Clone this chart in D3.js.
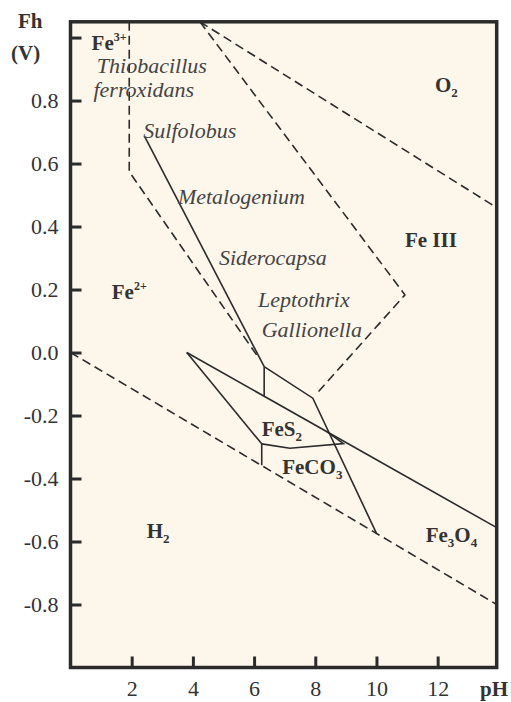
<!DOCTYPE html>
<html>
<head>
<meta charset="utf-8">
<script src="https://cdn.jsdelivr.net/npm/d3@7"></script>
<style>
  body { margin: 0; background: #fff; }
  text { font-family: "Liberation Serif", "Times New Roman", serif; fill: #333; }
</style>
</head>
<body>
<div id="container"></div>
<script>
// pH / Eh boundaries of the iron diagram
var waterO2 = [[4.23, 1.05], [13.93, 0.46]];
var waterH2 = [[0, 0], [13.93, -0.80]];
var fe3Line = [[1.92, 1.05], [1.92, 0.574], [6.1, -0.01]];
var fe3Field = [[4.23, 1.05], [10.93, 0.183], [8.05, -0.13]];

var sulfoLine = [[2.43, 0.685], [6.33, -0.045]];
var upperStep = [[6.33, -0.045], [7.92, -0.145], [10.0, -0.574]];
var stepTick = [[6.33, -0.045], [6.33, -0.14]];
var longLine = [[3.8, 0.0], [13.93, -0.556]];
var steepLine = [[3.8, 0.0], [6.25, -0.29]];
var fes2Base = [[6.25, -0.29], [7.17, -0.304], [8.92, -0.289], [8.38, -0.251]];
var fes2Tick = [[6.25, -0.29], [6.25, -0.358]];

var dashedLines = [waterO2, waterH2, fe3Line, fe3Field];
var solidLines = [sulfoLine, upperStep, stepTick, longLine, steepLine, fes2Base, fes2Tick];

var xTicks = [2, 4, 6, 8, 10, 12];
var yTicks = [-0.8, -0.6, -0.4, -0.2, 0.0, 0.2, 0.4, 0.6, 0.8, 1.0];
var yTickLabels = ["-0.8", "-0.6", "-0.4", "-0.2", "0.0", "0.2", "0.4", "0.6", "0.8", ""];

// species labels: [pH, Eh, text, sub/sup, kind]
var speciesLabels = [
    [0.69, 0.96, "Fe", "3+", "sup"],
    [11.91, 0.828, "O", "2", "sub"],
    [10.93, 0.336, "Fe III", "", ""],
    [1.35, 0.169, "Fe", "2+", "sup"],
    [6.25, -0.265, "FeS", "2", "sub"],
    [6.92, -0.386, "FeCO", "3", "sub"],
    [2.49, -0.59, "H", "2", "sub"]
];
var bacteriaLabels = [
    [0.86, 0.886, "Thiobacillus"],
    [0.75, 0.812, "ferroxidans"],
    [2.38, 0.68, "Sulfolobus"],
    [3.51, 0.471, "Metalogenium"],
    [4.85, 0.278, "Siderocapsa"],
    [6.13, 0.145, "Leptothrix"],
    [6.25, 0.048, "Gallionella"]
];

var W = 511, H = 702;
var svg = d3.select('#container')
    .append('svg')
    .attr('width', W)
    .attr('height', H);

var x = d3.scaleLinear().domain([0, 13.93]).range([70.5, 496.7]);
var y = d3.scaleLinear().domain([-1.0, 1.05]).range([667.5, 21.8]);

svg.append('rect')
    .attr('x', x(0)).attr('y', y(1.05))
    .attr('width', x(13.93) - x(0))
    .attr('height', y(-1.0) - y(1.05))
    .attr('fill', '#fdf6eb');

var line = d3.line()
    .x(function (d) { return x(d[0]); })
    .y(function (d) { return y(d[1]); });

svg.selectAll('.dash')
    .data(dashedLines)
    .enter().append('path')
    .attr('class', 'dash')
    .attr('d', line)
    .attr('fill', 'none')
    .attr('stroke', '#2b2b2b')
    .attr('stroke-width', 1.6)
    .style('stroke-dasharray', '9,5');

svg.selectAll('.solid')
    .data(solidLines)
    .enter().append('path')
    .attr('class', 'solid')
    .attr('d', line)
    .attr('fill', 'none')
    .attr('stroke', '#2b2b2b')
    .attr('stroke-width', 1.6)
    .attr('stroke-linejoin', 'miter');

// axes, ticks pointing inward
var yAxis = d3.axisLeft(y)
    .tickValues(yTicks)
    .tickFormat(function (d, i) { return yTickLabels[i]; })
    .tickSize(-11)
    .tickPadding(12);
var gy = svg.append('g').attr('transform', 'translate(' + x(0) + ',0)').call(yAxis);

var xAxis = d3.axisBottom(x)
    .tickValues(xTicks)
    .tickSize(-11)
    .tickPadding(13);
var gx = svg.append('g').attr('transform', 'translate(0,' + y(-1.0) + ')').call(xAxis);

[gx, gy].forEach(function (g) {
    g.select('.domain').remove();
    g.selectAll('.tick line').attr('stroke', '#2b2b2b').attr('stroke-width', 3);
    g.selectAll('.tick text')
        .attr('fill', '#333')
        .style('font-family', '"Liberation Serif", serif')
        .style('font-size', '22px');
});

svg.append('rect')
    .attr('x', x(0)).attr('y', y(1.05))
    .attr('width', x(13.93) - x(0))
    .attr('height', y(-1.0) - y(1.05))
    .attr('fill', 'none')
    .attr('stroke', '#2b2b2b')
    .attr('stroke-width', 3.5);

// axis titles
svg.append('text').attr('x', 18).attr('y', 28)
    .style('font-size', '21px').style('font-weight', 'bold').text('Fh');
svg.append('text').attr('x', 11).attr('y', 60)
    .style('font-size', '21px').style('font-weight', 'bold').text('(V)');
svg.append('text').attr('x', 480).attr('y', 696)
    .style('font-size', '21px').style('font-weight', 'bold').text('pH');

// species labels
speciesLabels.forEach(function (d) {
    var t = svg.append('text')
        .attr('x', x(d[0])).attr('y', y(d[1]))
        .style('font-size', '21px').style('font-weight', 'bold');
    t.append('tspan').text(d[2]);
    if (d[4] == 'sup') {
        t.append('tspan').attr('dy', -9).style('font-size', '12px').text(d[3]);
    }
    if (d[4] == 'sub') {
        t.append('tspan').attr('dy', 5).style('font-size', '13px').text(d[3]);
    }
});

// Fe3O4 has two subscripts
var fe3o4 = svg.append('text')
    .attr('x', x(11.61)).attr('y', y(-0.603))
    .style('font-size', '21px').style('font-weight', 'bold');
fe3o4.append('tspan').text('Fe');
fe3o4.append('tspan').attr('dy', 5).style('font-size', '13px').text('3');
fe3o4.append('tspan').attr('dy', -5).text('O');
fe3o4.append('tspan').attr('dy', 5).style('font-size', '13px').text('4');

svg.selectAll('.bact')
    .data(bacteriaLabels)
    .enter().append('text')
    .attr('class', 'bact')
    .attr('x', function (d) { return x(d[0]); })
    .attr('y', function (d) { return y(d[1]); })
    .style('font-size', '22px')
    .style('font-style', 'italic')
    .style('fill', '#444')
    .text(function (d) { return d[2]; });
</script>
</body>
</html>
